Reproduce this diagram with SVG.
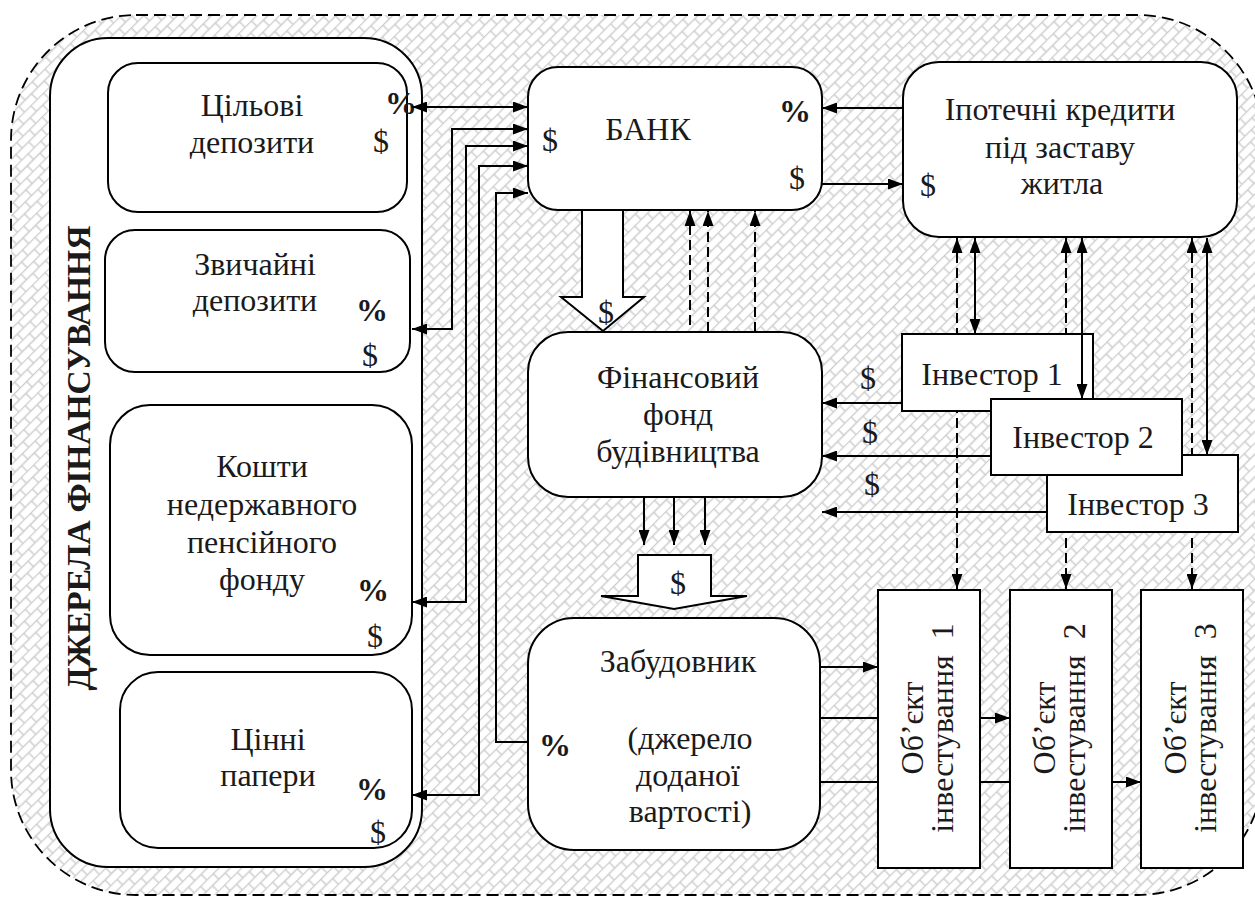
<svg xmlns="http://www.w3.org/2000/svg" width="1255" height="899" viewBox="0 0 1255 899">
<defs>
<pattern id="brick" width="18" height="16" patternUnits="userSpaceOnUse" patternTransform="rotate(-45)">
<rect width="18" height="16" fill="#ffffff"/>
<path d="M0,0.5H18M0,8.5H18M1,0.5V8.5M10,8.5V16.5" stroke="#cdcdcd" stroke-width="1.4" fill="none"/>
</pattern>
<marker id="ah" viewBox="0 0 15 11" markerWidth="15" markerHeight="11" refX="15" refY="5.5" orient="auto-start-reverse" markerUnits="userSpaceOnUse">
<path d="M0,0L15,5.5L0,11z" fill="#000"/>
</marker>
<style>
.box{fill:#fff;stroke:#000;stroke-width:2}
.t{font-family:'Liberation Serif','DejaVu Serif',serif;font-size:32px;fill:#1a1a1a;text-anchor:middle}
.b{font-weight:bold}
.ln{fill:none;stroke:#000;stroke-width:2}
.dl{fill:none;stroke:#000;stroke-width:2;stroke-dasharray:10,5}
.a{marker-end:url(#ah)}
.aa{marker-start:url(#ah);marker-end:url(#ah)}
.hollow{fill:#fff;stroke:#000;stroke-width:2}
</style>
</defs>

<rect id="background" x="11" y="15" width="1252" height="880" rx="125" fill="url(#brick)" stroke="#000" stroke-width="1.8" stroke-dasharray="12,6"/>

<g id="sources">
<rect class="box" x="50" y="38" width="372" height="829" rx="58"/>
<text class="t b" transform="translate(90,458) rotate(-90)" textLength="465" lengthAdjust="spacing" style="font-size:34px">ДЖЕРЕЛА  ФІНАНСУВАННЯ</text>
</g>

<g id="target-deposits">
<rect class="box" x="108" y="63" width="299" height="149" rx="30"/>
<text class="t" x="252" y="116">Цільові</text>
<text class="t" x="252" y="153">депозити</text>
<text class="t b" x="401" y="114">%</text>
<text class="t" x="381" y="152">$</text>
</g>

<g id="ordinary-deposits">
<rect class="box" x="105" y="230" width="305" height="142" rx="30"/>
<text class="t" x="255" y="275">Звичайні</text>
<text class="t" x="255" y="311">депозити</text>
<text class="t b" x="372" y="321">%</text>
<text class="t" x="370" y="366">$</text>
</g>

<g id="pension-fund">
<rect class="box" x="110" y="405" width="302" height="250" rx="40"/>
<text class="t" x="262" y="477">Кошти</text>
<text class="t" x="262" y="515">недержавного</text>
<text class="t" x="262" y="553">пенсійного</text>
<text class="t" x="262" y="590">фонду</text>
<text class="t b" x="373" y="601">%</text>
<text class="t" x="375" y="647">$</text>
</g>

<g id="securities">
<rect class="box" x="120" y="672" width="292" height="176" rx="38"/>
<text class="t" x="268" y="750">Цінні</text>
<text class="t" x="268" y="786">папери</text>
<text class="t b" x="372" y="800">%</text>
<text class="t" x="378" y="843">$</text>
</g>

<g id="bank">
<rect class="box" x="528" y="67" width="294" height="143" rx="30"/>
<text class="t" x="648" y="140">БАНК</text>
<text class="t b" x="795" y="122">%</text>
<text class="t" x="550" y="151">$</text>
<text class="t" x="797" y="189">$</text>
</g>

<g id="mortgage">
<rect class="box" x="903" y="62" width="334" height="175" rx="36"/>
<text class="t" x="1060" y="120">Іпотечні кредити</text>
<text class="t" x="1060" y="158">під заставу</text>
<text class="t" x="1062" y="194">житла</text>
<text class="t" x="928" y="196">$</text>
</g>

<g id="construction-fund">
<rect class="box" x="528" y="332" width="294" height="165" rx="40"/>
<text class="t" x="678" y="388">Фінансовий</text>
<text class="t" x="678" y="425">фонд</text>
<text class="t" x="678" y="462">будівництва</text>
</g>

<g id="developer">
<rect class="box" x="528" y="618" width="292" height="232" rx="46"/>
<text class="t" x="678" y="672">Забудовник</text>
<text class="t" x="690" y="749">(джерело</text>
<text class="t" x="688" y="786">доданої</text>
<text class="t" x="690" y="822">вартості)</text>
<text class="t b" x="555" y="756">%</text>
</g>

<g id="connectors">
<line class="ln a" x1="903" y1="108" x2="822" y2="108"/>
<line class="ln a" x1="822" y1="184" x2="903" y2="184"/>
<line class="ln aa" x1="412" y1="107" x2="528" y2="107"/>
<polyline class="ln aa" points="412,329 452,329 452,129 528,129"/>
<polyline class="ln aa" points="412,602 466,602 466,146 528,146"/>
<polyline class="ln aa" points="412,795 479,795 479,166 528,166"/>
<polyline class="ln a" points="528,742 496,742 496,193 528,193"/>
<polygon class="hollow" points="582,210 623,210 623,297 644,297 603,331 561,297 582,297"/>
<text class="t" x="606" y="323">$</text>
<line class="dl a" x1="690" y1="325" x2="690" y2="211"/>
<line class="dl a" x1="708" y1="332" x2="708" y2="211"/>
<line class="dl a" x1="755" y1="332" x2="755" y2="211"/>
<line class="ln a" x1="644" y1="497" x2="644" y2="545"/>
<line class="ln a" x1="674" y1="497" x2="674" y2="545"/>
<line class="ln a" x1="705" y1="497" x2="705" y2="545"/>
<polygon class="hollow" points="638,555 711,555 711,596 747,596 674,609 601,596 638,596"/>
<text class="t" x="678" y="594">$</text>
<line class="dl aa" x1="957" y1="238" x2="957" y2="589"/>
<line class="dl aa" x1="1066" y1="238" x2="1066" y2="589"/>
<line class="dl aa" x1="1192" y1="238" x2="1192" y2="589"/>
<line class="ln a" x1="902" y1="403" x2="822" y2="403"/>
<line class="ln a" x1="991" y1="456" x2="822" y2="456"/>
<line class="ln a" x1="1047" y1="512" x2="822" y2="512"/>
<text class="t" x="868" y="389">$</text>
<text class="t" x="870" y="443">$</text>
<text class="t" x="872" y="495">$</text>
<line class="ln a" x1="820" y1="667" x2="878" y2="667"/>
<line class="ln a" x1="820" y1="718" x2="1010" y2="718"/>
<line class="ln a" x1="820" y1="782" x2="1141" y2="782"/>
</g>

<g id="investor-1">
<rect class="box" x="902" y="334" width="191" height="77"/>
<text class="t" x="992" y="385">Інвестор 1</text>
</g>
<g id="investor-3">
<rect class="box" x="1047" y="455" width="191" height="77"/>
<text class="t" x="1138" y="515">Інвестор 3</text>
</g>
<g id="investor-links">
<line class="ln aa" x1="975" y1="238" x2="975" y2="334"/>
<line class="ln aa" x1="1082" y1="238" x2="1082" y2="399"/>
<line class="ln aa" x1="1207" y1="238" x2="1207" y2="455"/>
</g>
<g id="investor-2">
<rect class="box" x="991" y="399" width="191" height="76"/>
<text class="t" x="1083" y="448">Інвестор 2</text>
</g>

<g id="object-1">
<rect class="box" x="878" y="590" width="102" height="278"/>
<text class="t" transform="translate(923,728) rotate(-90)">Об’єкт</text>
<text class="t" transform="translate(953,728) rotate(-90)" style="white-space:pre">інвестування  1</text>
</g>
<g id="object-2">
<rect class="box" x="1010" y="590" width="102" height="278"/>
<text class="t" transform="translate(1055,728) rotate(-90)">Об’єкт</text>
<text class="t" transform="translate(1085,728) rotate(-90)" style="white-space:pre">інвестування  2</text>
</g>
<g id="object-3">
<rect class="box" x="1141" y="590" width="102" height="278"/>
<text class="t" transform="translate(1186,728) rotate(-90)">Об’єкт</text>
<text class="t" transform="translate(1216,728) rotate(-90)" style="white-space:pre">інвестування  3</text>
</g>
</svg>
